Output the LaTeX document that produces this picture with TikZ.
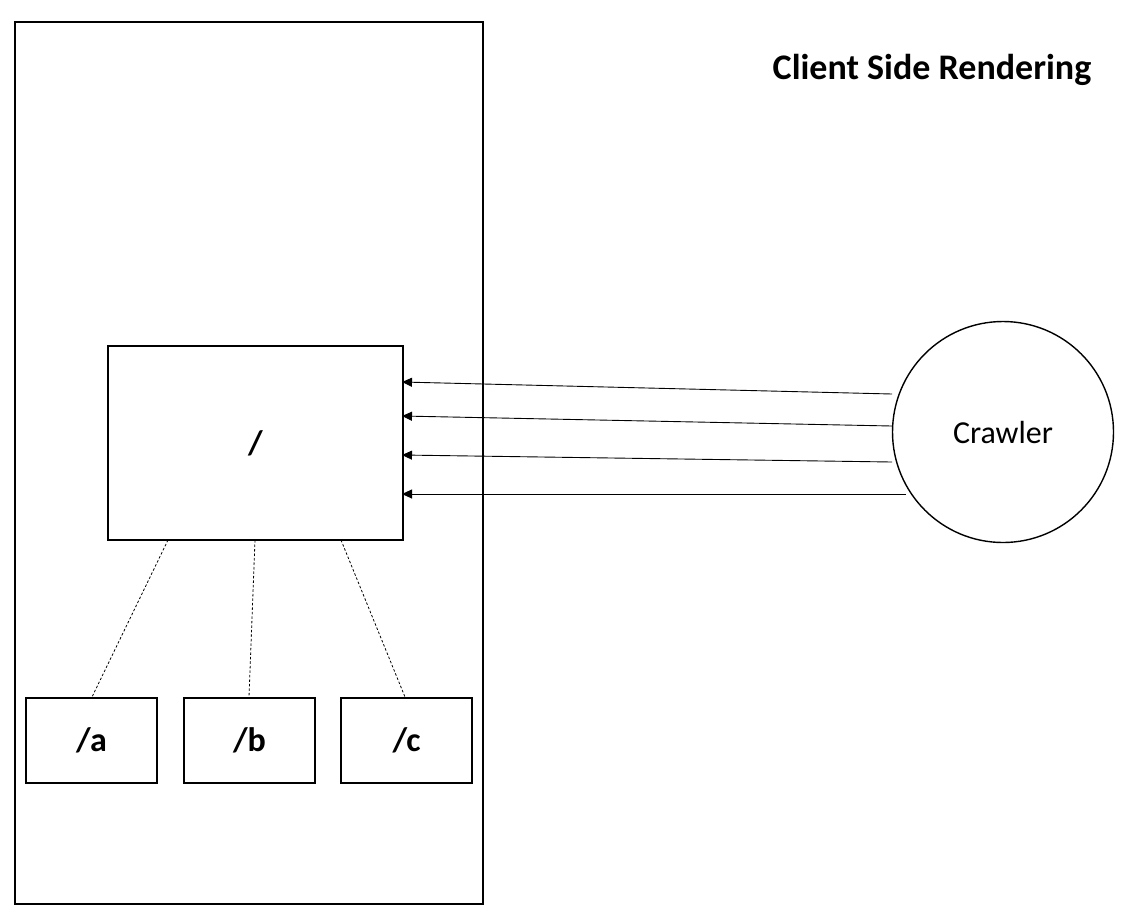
\documentclass[tikz,border=0pt]{standalone}
\usepackage{fontspec}
\setmainfont{Carlito}
\usetikzlibrary{arrows.meta}
\begin{document}
\begin{tikzpicture}[x=1pt,y=-1pt,
  box/.style={draw,line width=2pt,inner sep=0pt,anchor=north west},
  leaf/.style={box,minimum width=131pt,minimum height=85pt,font=\bfseries\fontsize{34}{40}\selectfont},
  req/.style={line width=0.9pt,-{Triangle[length=10pt,width=9pt]}},
  link/.style={line width=0.8pt,dash pattern=on 2.5pt off 2pt}]
\useasboundingbox (0,0) rectangle (1134,914);
\node[box,minimum width=468pt,minimum height=882pt] (page) at (14,21) {};
\node[box,minimum width=295pt,minimum height=194pt,font=\bfseries\fontsize{34}{40}\selectfont] (root) at (107,345) {/};
\node[leaf] (a) at (25,697) {/a};
\node[leaf] (b) at (183,697) {/b};
\node[leaf] (c) at (340,697) {/c};
\node[draw,circle,line width=1.4pt,minimum size=221pt,inner sep=0pt,font=\fontsize{32}{38}\selectfont] (crawler) at (1003,432) {Crawler};
\node[font=\bfseries\fontsize{36}{42}\selectfont] (title) at (932,70) {Client Side Rendering};
\coordinate (s1) at (892,394);
\coordinate (s2) at (892,426);
\coordinate (s3) at (892,462);
\coordinate (s4) at (906,494);
\coordinate (e1) at (402,382);
\coordinate (e2) at (402,416);
\coordinate (e3) at (402,455);
\coordinate (e4) at (402,494);
\draw[req] (s1) -- (e1);
\draw[req] (s2) -- (e2);
\draw[req] (s3) -- (e3);
\draw[req] (s4) -- (e4);
\coordinate (r1) at (168,540);
\coordinate (r2) at (255,540);
\coordinate (r3) at (341,540);
\draw[link] (r1) -- (a.north west -| 92,0);
\draw[link] (r2) -- (b.north west -| 249,0);
\draw[link] (r3) -- (c.north west -| 405,0);
\end{tikzpicture}
\end{document}
